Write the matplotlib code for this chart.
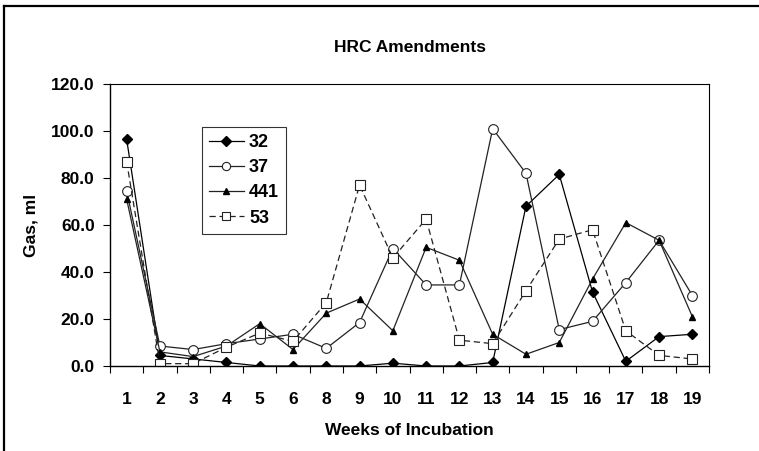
"""HRC amendments: gas production over weeks of incubation."""
import matplotlib
matplotlib.use('Agg')
import matplotlib.pyplot as plt
from matplotlib.lines import Line2D
import numpy as np

matplotlib.rcParams['font.family'] = ['Liberation Sans', 'DejaVu Sans']
matplotlib.rcParams['font.weight'] = 'bold'

weeks = ['1', '2', '3', '4', '5', '6', '8', '9', '10', '11', '12', '13',
         '14', '15', '16', '17', '18', '19']
gas_32 = [96.5, 4.5, 3.0, 1.5, 0.0, 0.0, 0.0, 0.0, 1.2, 0.0, 0.0, 1.5,
          68.0, 81.5, 31.5, 2.0, 12.5, 13.5]
gas_37 = [74.5, 8.5, 7.0, 9.5, 11.5, 13.5, 7.5, 18.5, 50.0, 34.5, 34.5, 101.0,
          82.0, 15.5, 19.0, 35.5, 53.5, 30.0]
gas_441 = [71.0, 6.0, 4.0, 8.5, 18.0, 7.0, 22.5, 28.5, 15.0, 50.5, 45.0, 13.5,
           5.0, 10.0, 37.0, 61.0, 53.5, 21.0]
gas_53 = [87.0, 1.0, 1.0, 8.0, 14.0, 10.5, 27.0, 77.0, 46.0, 62.5, 11.0, 9.5,
          32.0, 54.0, 58.0, 15.0, 4.5, 3.0]

FS = 12.5

fig = plt.figure(figsize=(7.59, 4.51), dpi=100)
ax = fig.add_axes([110 / 759, 1 - 366 / 451, 599 / 759, 282 / 451])

x = np.arange(len(weeks))
ax.plot(x, gas_32, color='black', lw=0.9, marker='D', ms=5.5,
        mfc='black', mec='black', label='32')
ax.plot(x, gas_37, color='#222222', lw=0.9, marker='o', ms=7,
        mfc='white', mec='#222222', mew=0.8, label='37')
ax.plot(x, gas_441, color='#222222', lw=0.9, marker='^', ms=5,
        mfc='black', mec='black', label='441')
ax.plot(x, gas_53, color='#222222', lw=0.9, ls=(0, (5, 3)), marker='s', ms=6.5,
        mfc='white', mec='#222222', mew=0.8, label='53')

ax.set_xlim(-0.5, len(weeks) - 0.5)
ax.set_ylim(0, 120)
ax.set_yticks(np.arange(0, 121, 20))
ax.set_yticklabels([f'{v:.1f}' for v in np.arange(0, 121, 20)], fontsize=FS)
ax.set_xticks(x)
ax.set_xticklabels(weeks, fontsize=FS)
ax.set_xticks(np.arange(-0.5, len(weeks)), minor=True)
ax.tick_params(axis='x', which='major', length=0, pad=18.5)
ax.tick_params(axis='x', which='minor', length=5, width=0.8, direction='out')
ax.tick_params(axis='y', length=5, width=0.8, direction='out', pad=6)

for side in ['left', 'bottom']:
    ax.spines[side].set_linewidth(1.0)
for side in ['top', 'right']:
    ax.spines[side].set_linewidth(0.8)

ax.set_xlabel('Weeks of Incubation', fontsize=FS, fontweight='bold', labelpad=12)
ax.set_ylabel('Gas, ml', fontsize=FS, fontweight='bold', labelpad=9)
fig.text(410 / 759, 1 - 47 / 451, 'HRC Amendments', fontsize=FS,
         fontweight='bold', ha='center', va='center')

leg = ax.legend(loc='upper left', bbox_to_anchor=((202 - 110) / 599, (366 - 127) / 282),
                fontsize=13, frameon=True, fancybox=False, edgecolor='black',
                handlelength=1.9, handletextpad=0.3, borderpad=0.4,
                labelspacing=0.45, borderaxespad=0, markerscale=0.85)
leg.get_frame().set_linewidth(0.8)
for t in leg.get_texts():
    t.set_fontweight('bold')

# outer chart frame (cropped at right and bottom)
fig.add_artist(Line2D([4 / 759, 1], [1 - 6 / 451, 1 - 6 / 451],
                      transform=fig.transFigure, color='black', lw=1.6))
fig.add_artist(Line2D([4 / 759, 4 / 759], [0, 1 - 6 / 451],
                      transform=fig.transFigure, color='black', lw=1.6))

fig.savefig('out.png', dpi=100, facecolor='white')
